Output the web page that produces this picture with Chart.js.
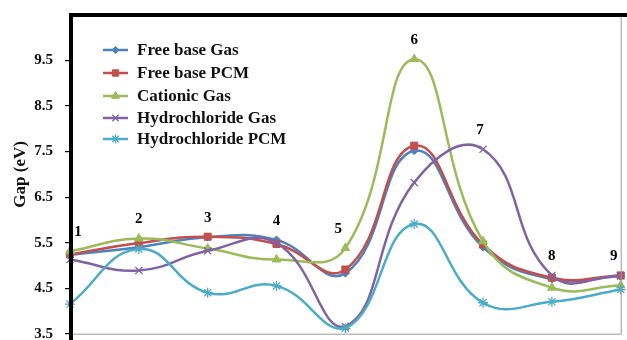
<!DOCTYPE html>
<html>
<head>
<meta charset="utf-8">
<script src="https://cdn.jsdelivr.net/npm/chart.js@4.4.1/dist/chart.umd.min.js"></script>
<style>
  html, body { margin: 0; padding: 0; background: #fff; }
  #wrap { width: 627px; height: 340px; }
</style>
</head>
<body>
<div id="wrap"><canvas id="c" width="627" height="340"></canvas></div>
<script>
// ---- data ----
const categories = ['1', '2', '3', '4', '5', '6', '7', '8', '9'];
const freeBaseGas       = [5.23, 5.40, 5.62, 5.56, 4.83, 7.52, 5.40, 4.70, 4.76];
const freeBasePCM       = [5.24, 5.49, 5.63, 5.47, 4.91, 7.63, 5.46, 4.73, 4.78];
const cationicGas       = [5.31, 5.59, 5.37, 5.13, 5.38, 9.53, 5.53, 4.51, 4.56];
const hydrochlorideGas  = [5.13, 4.89, 5.32, 5.49, 3.66, 6.82, 7.55, 4.78, 4.77];
const hydrochloridePCM  = [4.15, 5.36, 4.40, 4.55, 3.62, 5.91, 4.18, 4.20, 4.47];
const seriesNames = ['Free base Gas', 'Free base PCM', 'Cationic Gas', 'Hydrochloride Gas', 'Hydrochloride PCM'];
const yTickValues = [3.5, 4.5, 5.5, 6.5, 7.5, 8.5, 9.5];
const yMin = 3.5, yMax = 10.5;

const colors = ['#4F81BD', '#C0504D', '#9BBB59', '#8064A2', '#4BACC6'];
const styles = ['rectRot', 'rect', 'triangle', 'crossRot', 'star'];
const radii  = [4, 5, 5, 5, 5];
const allSeries = [freeBaseGas, freeBasePCM, cationicGas, hydrochlorideGas, hydrochloridePCM];

const serif = '"Liberation Serif", "Times New Roman", serif';

const datasets = allSeries.map((d, i) => ({
  label: seriesNames[i],
  data: d,
  borderColor: colors[i],
  backgroundColor: colors[i],
  borderWidth: 2.5,
  pointStyle: styles[i],
  pointRadius: radii[i],
  pointBorderWidth: i >= 3 ? 1.3 : 1,
  pointBackgroundColor: colors[i],
  pointBorderColor: colors[i],
  tension: 0.45,
  order: 5 - i,
  clip: false
}));

// point number labels (offsets in px for edge labels)
const labelDx = [8, 0, 0, 0, -7, 0, -3, 0, -7];

const framePlugin = {
  id: 'frame',
  afterDraw(chart) {
    const { ctx, chartArea: a, scales } = chart;
    ctx.save();
    // thin grey right & bottom
    ctx.strokeStyle = '#9a9a9a';
    ctx.lineWidth = 1;
    ctx.beginPath();
    ctx.moveTo(a.right + 0.5, a.top);
    ctx.lineTo(a.right + 0.5, a.bottom + 0.5);
    ctx.lineTo(a.left, a.bottom + 0.5);
    ctx.stroke();
    // thick black left & top
    ctx.strokeStyle = '#000';
    ctx.lineWidth = 4;
    ctx.beginPath();
    ctx.moveTo(a.left + 1, 340);
    ctx.lineTo(a.left + 1, a.top);
    ctx.lineTo(627, a.top);
    ctx.stroke();

    // point number labels
    ctx.fillStyle = '#000';
    ctx.font = 'bold 15px ' + serif;
    ctx.textAlign = 'center';
    ctx.textBaseline = 'middle';
    categories.forEach((c, i) => {
      let mx = -Infinity;
      allSeries.forEach(s => { if (s[i] > mx) mx = s[i]; });
      const x = scales.x.getPixelForValue(i) + labelDx[i];
      const y = scales.y.getPixelForValue(mx) - 19;
      ctx.fillText(c, x, y);
    });

    // legend
    const rows = [50, 73, 96, 118, 139];
    ctx.textAlign = 'left';
    ctx.font = 'bold 17px ' + serif;
    seriesNames.forEach((n, i) => {
      const y = rows[i];
      ctx.strokeStyle = colors[i];
      ctx.fillStyle = colors[i];
      ctx.lineWidth = 2.5;
      ctx.beginPath();
      ctx.moveTo(103, y);
      ctx.lineTo(128, y);
      ctx.stroke();
      ctx.lineWidth = i >= 3 ? 1.3 : 1;
      Chart.helpers.drawPoint(ctx, {
        pointStyle: styles[i], radius: radii[i] - 0.5, borderWidth: ctx.lineWidth, rotation: 0
      }, 115.5, y);
      ctx.fillStyle = '#111';
      ctx.fillText(n, 137, y + 1);
    });
    ctx.restore();
  }
};

new Chart(document.getElementById('c'), {
  type: 'line',
  data: { labels: categories, datasets },
  options: {
    responsive: false,
    animation: false,
    devicePixelRatio: 1,
    layout: { padding: { left: 0, top: 15, right: 1, bottom: 2 } },
    plugins: { legend: { display: false }, tooltip: { enabled: false } },
    scales: {
      x: { display: false, offset: false },
      y: {
        min: yMin, max: yMax,
        afterBuildTicks(scale) { scale.ticks = yTickValues.map(v => ({ value: v })); },
        afterFit(scale) { scale.width = 70; scale.paddingTop = 0; scale.paddingBottom = 0; },
        border: { display: false },
        grid: { drawOnChartArea: false, drawTicks: true, tickLength: 5, color: '#000', lineWidth: 1.2 },
        ticks: {
          padding: 12,
          color: '#111',
          font: { family: serif, weight: 'bold', size: 15 },
          callback: v => v.toFixed(1)
        },
        title: {
          display: true, text: 'Gap (eV)', color: '#111',
          font: { family: serif, weight: 'bold', size: 17 },
          padding: { top: 10, bottom: 0 }
        }
      }
    }
  },
  plugins: [framePlugin]
});
</script>
</body>
</html>
